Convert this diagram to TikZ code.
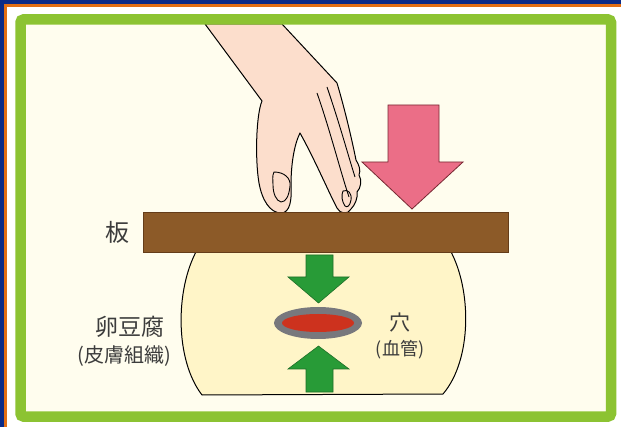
\documentclass[tikz,border=0pt]{standalone}
\usepackage{fontspec}
\newfontfamily\jpfont{Noto Sans CJK JP}
\usetikzlibrary{positioning}

\definecolor{navy}{RGB}{10,42,135}
\definecolor{rim}{RGB}{225,110,20}
\definecolor{framegreen}{RGB}{140,195,50}
\definecolor{paper}{RGB}{255,253,238}
\definecolor{tofu}{RGB}{255,245,200}
\definecolor{wood}{RGB}{140,90,40}
\definecolor{push}{RGB}{235,110,135}
\definecolor{squeeze}{RGB}{40,155,55}
\definecolor{vesselrim}{RGB}{120,120,125}
\definecolor{blood}{RGB}{205,50,30}
\definecolor{skin}{RGB}{252,222,204}
\definecolor{ink}{RGB}{60,60,60}

\begin{document}
\begin{tikzpicture}[x=1pt,y=-1pt,
		jptext/.style={text=ink,inner sep=0pt,font=\jpfont},
		outline/.style={draw=black,line width=1pt,line join=round},
		greenarrow/.style={fill=squeeze,draw={rgb,255:red,30;green,110;blue,40},line width=0.6pt}]
		\useasboundingbox (0,0) rectangle (621,427);
		% Background and frames
		\fill [navy] (0,0) rectangle (621,427);
		\fill [rim] (4,4) rectangle (621,427);
		\fill [white] (6.5,7) rectangle (621,427);
		\fill [paper] (20,19) rectangle (611,416);

		% Hand
		\draw [outline,fill=skin] (205,24) -- (262,101)
			.. controls (256,115) and (255,160) .. (259,183)
			.. controls (262,200) and (270,213) .. (281,213)
			.. controls (290,213) and (292,200) .. (291,185)
			.. controls (291,165) and (294,145) .. (300,133)
			.. controls (315,160) and (330,195) .. (337,208)
			.. controls (340,214) and (348,215) .. (351,209)
			.. controls (355,205) and (358,198) .. (357,192)
			.. controls (361,188) and (362,180) .. (359,175)
			.. controls (361,170) and (359,165) .. (356,160)
			.. controls (352,140) and (345,110) .. (337,83)
			-- (282,24) -- cycle;
		\draw [outline,line width=0.9pt] (317,93) .. controls (330,130) and (340,170) .. (349,197);
		\draw [outline,line width=0.9pt] (327,87) .. controls (340,125) and (348,155) .. (355,177);
		\draw [outline,line width=0.9pt] (274,172) .. controls (284,172) and (291,178) .. (290,186)
			.. controls (289,196) and (286,202) .. (281,202)
			.. controls (276,201) and (273,193) .. (273,185)
			.. controls (273,180) and (272,176) .. (274,172) -- cycle;
		\draw [outline,line width=0.9pt] (343,191) .. controls (348,189) and (352,193) .. (351,200)
			.. controls (350,206) and (347,208) .. (345,206)
			.. controls (342,202) and (341,195) .. (343,191) -- cycle;

		% Pressing arrow
		\draw [fill=push,draw={rgb,255:red,120;green,40;blue,50},line width=0.8pt,line join=miter]
			(388,105) -- (439,105) -- (439,162) -- (463,162) -- (412,209) -- (362,162) -- (388,162) -- cycle;

		% Tofu block
		\draw [outline,fill=tofu] (197,250)
			.. controls (175,290) and (175,360) .. (202,395)
			-- (443,394)
			.. controls (472,360) and (472,290) .. (450,250);

		% Board
		\draw [fill=wood,draw={rgb,255:red,100;green,60;blue,25},line width=0.6pt] (143,212) rectangle (508,252);

		% Vessel and squeezing arrows
		\fill [vesselrim] (318,323) ellipse [x radius=44,y radius=16];
		\fill [blood] (318,323) ellipse [x radius=36,y radius=9];
		\draw [greenarrow] (306,255) -- (333,255) -- (333,277) -- (349,277) -- (318.5,303) -- (288,277) -- (306,277) -- cycle;
		\draw [greenarrow] (306,392) -- (333,392) -- (333,369) -- (349,369) -- (318.5,346) -- (288,369) -- (306,369) -- cycle;

		% Labels
		\node [jptext,font=\jpfont\fontsize{24}{26}\selectfont] (board) at (117,232) {板};
		\node [jptext,font=\jpfont\fontsize{23}{25}\selectfont] (tofu) at (130,327) {卵豆腐};
		\node [jptext,font=\jpfont\fontsize{20}{22}\selectfont] (skin) at (124,356) {(皮膚組織)};
		\node [jptext,font=\jpfont\fontsize{21}{23}\selectfont] (hole) at (400,323) {穴};
		\node [jptext,font=\jpfont\fontsize{18}{20}\selectfont] (vessel) at (400,350) {(血管)};

		% Green frame on top
		\draw [framegreen,line width=10.5pt,rounded corners=3pt] (20.5,19.5) rectangle (611,416.5);
	\end{tikzpicture}
\end{document}
